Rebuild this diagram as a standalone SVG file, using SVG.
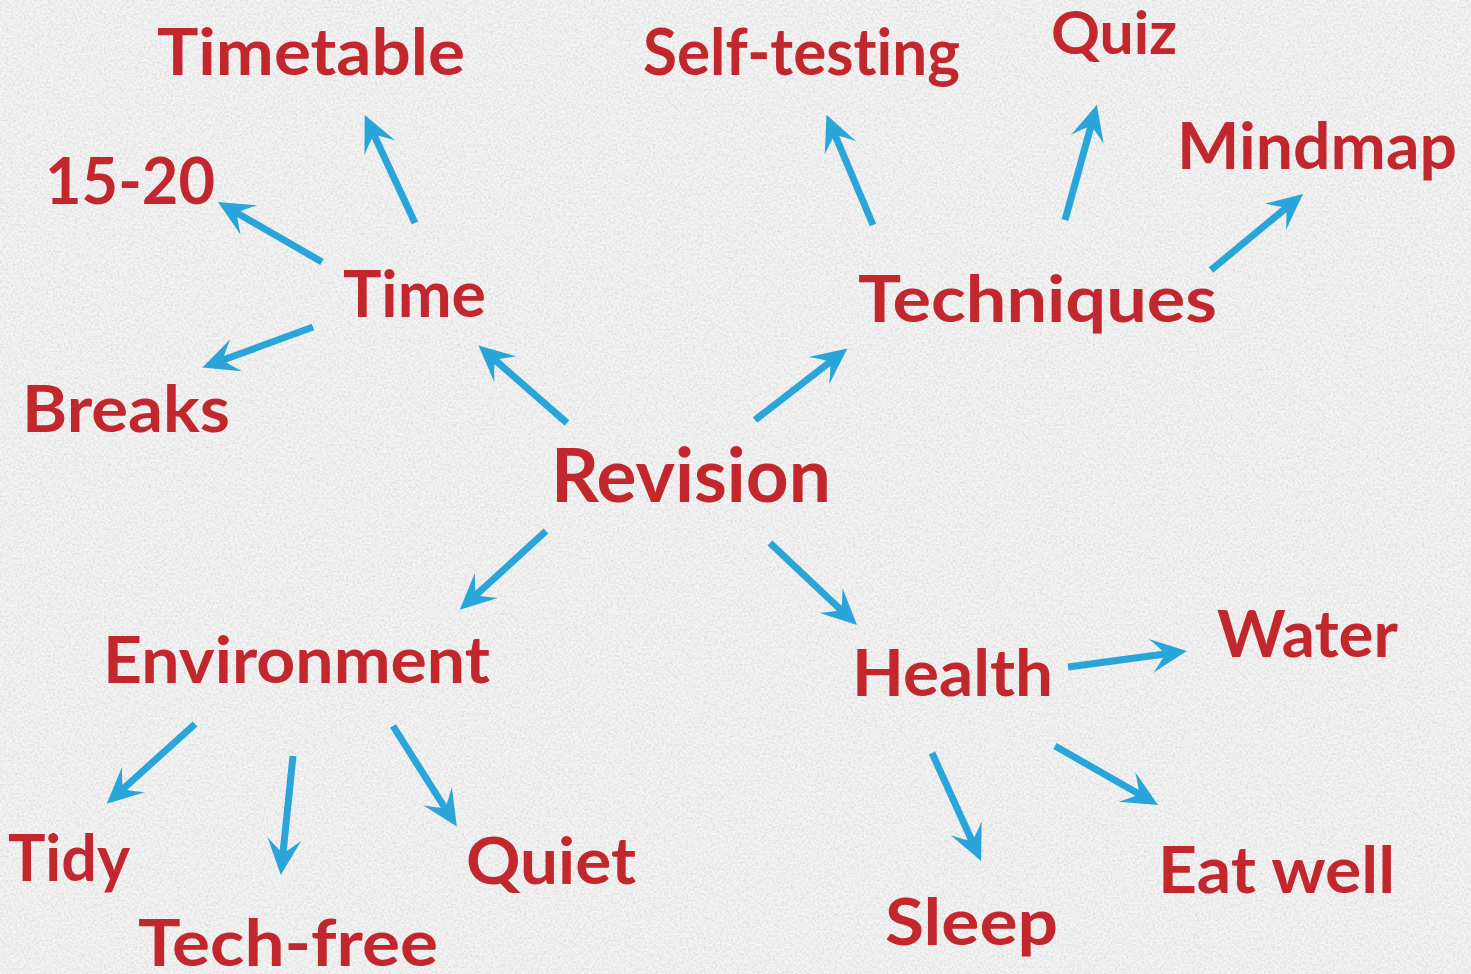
<svg xmlns="http://www.w3.org/2000/svg" width="1471" height="974" viewBox="0 0 1471 974">
  <defs>
    <style>
      .lbl { font-family: "Lato", "Liberation Sans", sans-serif; font-weight: 700; font-size: 65px; fill: #c1272d; font-variant-ligatures: none; }
      .big { font-size: 75px; }
      .sm { font-size: 59px; }
      .arr { fill: none; stroke: #29a5d9; stroke-width: 7; stroke-linecap: butt; marker-end: url(#head); }
    </style>
    <marker id="head" markerUnits="userSpaceOnUse" orient="auto" refX="0" refY="0" markerWidth="80" markerHeight="80" overflow="visible">
      <path d="M22,0 L-14,-17 Q-3,-5 0,0 Q-3,5 -14,17 Z" fill="#29a5d9"/>
    </marker>
    <filter id="grain" x="0" y="0" width="100%" height="100%">
      <feTurbulence type="fractalNoise" baseFrequency="0.45" numOctaves="3" seed="7" result="n"/>
      <feColorMatrix in="n" type="matrix" values="0 0 0 0 0.62  0 0 0 0 0.62  0 0 0 0 0.62  1.6 0 0 0 -0.6"/>
    </filter>
  </defs>

  <!-- paper background -->
  <rect width="1471" height="974" fill="#f4f4f4"/>
  <rect width="1471" height="974" filter="url(#grain)" opacity="0.8"/>

  <!-- connectors -->
  <g id="connectors">
    <path class="arr" d="M415,223 L374,135"/>
    <path class="arr" d="M322,262 L237,213"/>
    <path class="arr" d="M313,327 L223,360"/>
    <path class="arr" d="M567,423 L495,360"/>
    <path class="arr" d="M755,420 L830,362"/>
    <path class="arr" d="M873,225 L835,135"/>
    <path class="arr" d="M1065,220 L1091,126"/>
    <path class="arr" d="M1211,270 L1286,208"/>
    <path class="arr" d="M546,531 L476,595"/>
    <path class="arr" d="M770,543 L841,610"/>
    <path class="arr" d="M1068,667 L1165,654"/>
    <path class="arr" d="M1055,746 L1139,794"/>
    <path class="arr" d="M932,753 L972,841"/>
    <path class="arr" d="M195,724 L123,789"/>
    <path class="arr" d="M293,756 L283,853"/>
    <path class="arr" d="M393,726 L445,808"/>
  </g>

  <!-- centre -->
  <g id="revision"><text class="lbl big" x="551" y="502" textLength="280" lengthAdjust="spacingAndGlyphs">Revision</text></g>

  <!-- Time branch -->
  <g id="time"><text class="lbl" x="343" y="317" textLength="143" lengthAdjust="spacingAndGlyphs">Time</text></g>
  <g id="timetable"><text class="lbl" x="157" y="75" textLength="308" lengthAdjust="spacingAndGlyphs">Timetable</text></g>
  <g id="fifteen-twenty"><text class="lbl" x="45" y="204" textLength="170" lengthAdjust="spacingAndGlyphs">15-20</text></g>
  <g id="breaks"><text class="lbl" x="22" y="432" textLength="208" lengthAdjust="spacingAndGlyphs">Breaks</text></g>

  <!-- Techniques branch -->
  <g id="techniques"><text class="lbl" x="858" y="322" textLength="359" lengthAdjust="spacingAndGlyphs">Techniques</text></g>
  <g id="self-testing"><text class="lbl" x="643" y="75" textLength="317" lengthAdjust="spacingAndGlyphs">Self-testing</text></g>
  <g id="quiz"><text class="lbl sm" x="1051" y="54" textLength="126" lengthAdjust="spacingAndGlyphs">Quiz</text></g>
  <g id="mindmap"><text class="lbl" x="1177" y="169" textLength="280" lengthAdjust="spacingAndGlyphs">Mindmap</text></g>

  <!-- Environment branch -->
  <g id="environment"><text class="lbl" x="103" y="683" textLength="387" lengthAdjust="spacingAndGlyphs">Environment</text></g>
  <g id="tidy"><text class="lbl" x="8" y="881" textLength="122" lengthAdjust="spacingAndGlyphs">Tidy</text></g>
  <g id="tech-free"><text class="lbl" x="138" y="966" textLength="300" lengthAdjust="spacingAndGlyphs">Tech-free</text></g>
  <g id="quiet"><text class="lbl" x="466" y="884" textLength="170" lengthAdjust="spacingAndGlyphs">Quiet</text></g>

  <!-- Health branch -->
  <g id="health"><text class="lbl" x="852" y="696" textLength="201" lengthAdjust="spacingAndGlyphs">Health</text></g>
  <g id="water"><text class="lbl" x="1217" y="657" textLength="181" lengthAdjust="spacingAndGlyphs">Water</text></g>
  <g id="eat-well"><text class="lbl" x="1158" y="893" textLength="237" lengthAdjust="spacingAndGlyphs">Eat well</text></g>
  <g id="sleep"><text class="lbl" x="885" y="945" textLength="173" lengthAdjust="spacingAndGlyphs">Sleep</text></g>
</svg>
